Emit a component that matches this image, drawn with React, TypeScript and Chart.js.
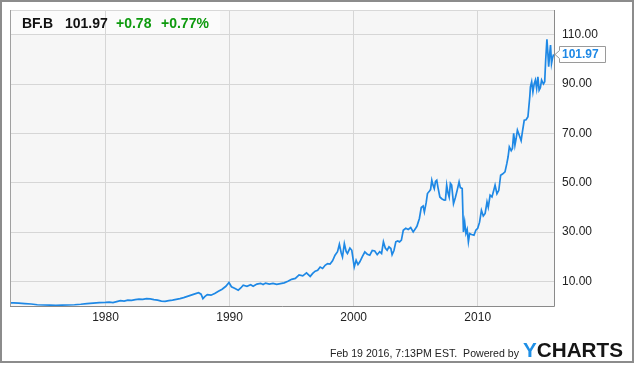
import React, { useEffect, useRef } from "react";
import { Chart, registerables } from "chart.js";

Chart.register(...registerables);

const years: number[] = [
  1972.3, 1972.6, 1973.0, 1973.5, 1974.0, 1974.5, 1975.0, 1975.5, 1976.0, 1976.5,
  1977.0, 1977.5, 1978.0, 1978.5, 1979.0, 1979.5, 1980.0, 1980.3, 1980.6, 1980.9,
  1981.2, 1981.5, 1981.8, 1982.1, 1982.4, 1982.7, 1983.0, 1983.3, 1983.6, 1983.9,
  1984.2, 1984.5, 1984.8, 1985.1, 1985.4, 1985.7, 1986.0, 1986.3, 1986.6, 1986.9,
  1987.2, 1987.5, 1987.7, 1987.85, 1988.0, 1988.2, 1988.5, 1988.8, 1989.1, 1989.4,
  1989.7, 1989.95, 1990.15, 1990.4, 1990.7, 1990.9, 1991.1, 1991.4, 1991.7, 1991.9,
  1992.2, 1992.5, 1992.7, 1992.9, 1993.2, 1993.5, 1993.8, 1994.1, 1994.4, 1994.7,
  1995.0, 1995.3, 1995.6, 1995.9, 1996.2, 1996.5, 1996.7, 1996.9, 1997.1, 1997.3,
  1997.5, 1997.7, 1997.9, 1998.1, 1998.3, 1998.5, 1998.7, 1998.85, 1999.0, 1999.1,
  1999.25, 1999.4, 1999.5, 1999.7, 1999.85, 2000.05, 2000.2, 2000.35, 2000.5, 2000.7,
  2000.9, 2001.1, 2001.3, 2001.5, 2001.7, 2001.9, 2002.1, 2002.25, 2002.4, 2002.55,
  2002.7, 2002.85, 2003.0, 2003.1, 2003.25, 2003.4, 2003.55, 2003.7, 2003.85, 2004.0,
  2004.2, 2004.4, 2004.6, 2004.8, 2005.0, 2005.1, 2005.3, 2005.45, 2005.6, 2005.7,
  2005.85, 2005.95, 2006.1, 2006.2, 2006.3, 2006.4, 2006.5, 2006.6, 2006.7, 2006.8,
  2006.95, 2007.1, 2007.3, 2007.4, 2007.5, 2007.6, 2007.7, 2007.8, 2007.9, 2008.05,
  2008.2, 2008.35, 2008.5, 2008.6, 2008.75, 2008.85, 2008.95, 2009.05, 2009.15, 2009.25,
  2009.35, 2009.5, 2009.7, 2009.85, 2010.0, 2010.15, 2010.3, 2010.45, 2010.6, 2010.75,
  2010.85, 2011.0, 2011.15, 2011.3, 2011.4, 2011.55, 2011.7, 2011.85, 2012.0, 2012.2,
  2012.35, 2012.45, 2012.55, 2012.7, 2012.8, 2012.9, 2013.0, 2013.1, 2013.2, 2013.35,
  2013.5, 2013.6, 2013.75, 2013.9, 2014.05, 2014.2, 2014.25, 2014.35, 2014.45, 2014.55,
  2014.65, 2014.75, 2014.85, 2014.95, 2015.05, 2015.15, 2015.3, 2015.4, 2015.48, 2015.58,
  2015.65, 2015.72, 2015.8, 2015.87, 2015.95, 2016.03, 2016.1, 2016.13,
];

const prices: number[] = [
  1.3, 1.25, 1.2, 1.0, 0.8, 0.5, 0.4, 0.35, 0.3, 0.35,
  0.4, 0.5, 0.7, 1.0, 1.2, 1.4, 1.5, 1.6, 1.4, 1.8,
  2.2, 2.0, 2.4, 2.3, 2.6, 2.8, 2.7, 3.0, 2.9, 2.6,
  2.4, 2.0, 1.9, 2.2, 2.4, 2.7, 3.0, 3.4, 3.9, 4.4,
  4.9, 5.4, 4.8, 3.0, 3.8, 4.6, 4.4, 5.1, 6.0, 6.8,
  8.0, 9.5, 7.8, 7.2, 6.4, 7.3, 8.4, 8.0, 8.6, 8.0,
  8.9, 9.2, 8.7, 9.3, 8.9, 9.2, 8.8, 9.1, 9.4, 10.0,
  10.8, 11.2, 12.6, 12.2, 13.4, 12.0, 13.2, 14.1, 14.5, 15.8,
  15.2, 16.5, 17.2, 17.0, 18.3, 20.6, 22.0, 25.0, 21.5, 19.9,
  25.3, 22.0, 21.3, 23.5, 22.6, 15.8, 18.5, 16.8, 17.9, 20.0,
  21.9, 21.0, 20.6, 22.5, 22.3, 20.8, 22.0, 21.3, 26.0, 23.5,
  22.6, 24.0, 23.3, 20.8, 22.5, 26.0, 26.4, 26.0, 26.7, 30.7,
  31.5, 31.0, 31.8, 30.0, 31.5, 32.3, 35.5, 39.9, 40.5, 38.1,
  42.0, 45.6, 46.5, 47.2, 51.0, 49.0, 47.6, 50.5, 51.0, 48.0,
  44.2, 43.5, 42.9, 43.0, 49.0, 46.0, 44.2, 49.7, 49.0, 41.5,
  44.0, 47.0, 50.3, 48.0, 47.6, 30.0, 34.0, 29.4, 31.0, 26.0,
  29.4, 29.0, 28.7, 30.7, 31.5, 34.0, 38.8, 36.5, 37.5, 42.2,
  40.0, 44.9, 44.2, 47.0, 49.0, 45.5, 46.9, 53.0, 53.5, 54.4,
  57.8, 60.5, 64.5, 63.0, 63.9, 70.0, 65.2, 68.0, 71.3, 69.2,
  67.0, 70.5, 75.3, 75.5, 76.7, 85.0, 88.8, 90.9, 86.8, 90.0,
  91.6, 88.2, 92.9, 87.5, 88.5, 91.6, 90.0, 90.9, 99.7, 108.1,
  103.0, 97.0, 102.0, 105.8, 98.3, 100.5, 101.7, 101.97,
];

const xTicks: number[] = [1980, 1990, 2000, 2010];
const yTicks: number[] = [10, 30, 50, 70, 90, 110];

const ticker = "BF.B";
const lastPrice = "101.97";
const change = "+0.78";
const changePct = "+0.77%";
const footerText = "Feb 19 2016, 7:13PM EST.  Powered by";
const brandY = "Y";
const brandRest = "CHARTS";

const LINE_BLUE = "#1e88e5";
const FONT = "Arial, 'Liberation Sans', sans-serif";

export default function App() {
  const ref = useRef<HTMLCanvasElement | null>(null);

  useEffect(() => {
    document.body.style.margin = "0";
    const canvas = ref.current;
    if (!canvas) return;

    const decor = {
      id: "decor",
      beforeDraw(chart: any) {
        const ctx = chart.ctx;
        const a = chart.chartArea;
        ctx.save();
        ctx.fillStyle = "#ffffff";
        ctx.fillRect(0, 0, chart.width, chart.height);
        ctx.fillStyle = "#f6f6f6";
        ctx.fillRect(a.left, a.top, a.right - a.left, a.bottom - a.top);
        const yTop = chart.scales.y.getPixelForValue(110);
        ctx.fillStyle = "#fbfbfb";
        ctx.fillRect(a.left, a.top, 210, yTop - a.top);
        ctx.restore();
      },
      afterDraw(chart: any) {
        const ctx = chart.ctx;
        const a = chart.chartArea;
        ctx.save();
        ctx.lineWidth = 1;
        ctx.strokeStyle = "#d8d8d8";
        ctx.beginPath();
        ctx.moveTo(a.left, a.top + 0.5);
        ctx.lineTo(a.right, a.top + 0.5);
        ctx.stroke();
        ctx.strokeStyle = "#a0a0a0";
        ctx.beginPath();
        ctx.moveTo(a.left + 0.5, a.top);
        ctx.lineTo(a.left + 0.5, a.bottom);
        ctx.stroke();
        ctx.strokeStyle = "#8a8a8a";
        ctx.beginPath();
        ctx.moveTo(a.right + 0.5, a.top);
        ctx.lineTo(a.right + 0.5, a.bottom + 0.5);
        ctx.lineTo(a.left, a.bottom + 0.5);
        ctx.stroke();

        ctx.lineWidth = 2;
        ctx.strokeStyle = "#8c8c8c";
        ctx.strokeRect(1, 1, 632, 361);

        ctx.font = "bold 14px " + FONT;
        ctx.textBaseline = "alphabetic";
        ctx.textAlign = "left";
        ctx.fillStyle = "#111111";
        ctx.fillText(ticker, 22, 28);
        ctx.fillText(lastPrice, 65, 28);
        ctx.fillStyle = "#0e9a0e";
        ctx.fillText(change, 116, 28);
        ctx.fillText(changePct, 161, 28);

        const yl = chart.scales.y.getPixelForValue(prices[prices.length - 1]);
        const bx = 559, bw = 46, bh = 16;
        const by = Math.round(yl - bh / 2) + 0.5;
        ctx.lineWidth = 1;
        ctx.strokeStyle = "#9a9a9a";
        ctx.fillStyle = "#ffffff";
        ctx.beginPath();
        ctx.moveTo(bx + 0.5, by);
        ctx.lineTo(bx + bw + 0.5, by);
        ctx.lineTo(bx + bw + 0.5, by + bh);
        ctx.lineTo(bx + 0.5, by + bh);
        ctx.lineTo(bx + 0.5, by + bh / 2 + 4);
        ctx.lineTo(bx - 4, by + bh / 2);
        ctx.lineTo(bx + 0.5, by + bh / 2 - 4);
        ctx.closePath();
        ctx.fill();
        ctx.stroke();
        ctx.font = "bold 12px " + FONT;
        ctx.fillStyle = LINE_BLUE;
        ctx.textBaseline = "middle";
        ctx.fillText(lastPrice, bx + 3, by + bh / 2 + 0.5);

        ctx.textBaseline = "alphabetic";
        ctx.font = "bold 20px " + FONT;
        const fullW = ctx.measureText(brandY + brandRest).width;
        const sx = 100 / fullW;
        const yW = ctx.measureText(brandY).width;
        ctx.save();
        ctx.translate(523, 357);
        ctx.scale(sx, 1);
        ctx.fillStyle = "#1e8fe6";
        ctx.fillText(brandY, 0, 0);
        ctx.fillStyle = "#151515";
        ctx.fillText(brandRest, yW, 0);
        ctx.restore();

        ctx.font = "11px " + FONT;
        ctx.fillStyle = "#222222";
        const fw = ctx.measureText(footerText).width;
        ctx.save();
        ctx.translate(330, 357);
        ctx.scale(189 / fw, 1);
        ctx.textAlign = "left";
        ctx.fillText(footerText, 0, 0);
        ctx.restore();
        ctx.restore();
      },
    };

    const chart = new Chart(canvas, {
      type: "line",
      data: {
        datasets: [
          {
            data: years.map((x, i) => ({ x, y: prices[i] })),
            borderColor: LINE_BLUE,
            borderWidth: 1.7,
            pointRadius: 0,
            tension: 0,
            fill: false,
          },
        ],
      },
      options: {
        responsive: false,
        animation: false,
        devicePixelRatio: 1,
        layout: { padding: { left: 10, top: 10, right: 0, bottom: 0 } },
        plugins: { legend: { display: false }, tooltip: { enabled: false } },
        scales: {
          x: {
            type: "linear",
            min: 1972.3,
            max: 2016.15,
            afterBuildTicks: (s: any) => {
              s.ticks = xTicks.map((v) => ({ value: v }));
            },
            afterFit: (s: any) => {
              s.height = 60;
              s.paddingLeft = 0;
              s.paddingRight = 0;
            },
            grid: { color: "#d6d6d6", drawTicks: false, lineWidth: 1 },
            border: { display: false },
            ticks: {
              padding: 4,
              color: "#222222",
              font: { family: FONT, size: 12 },
              maxRotation: 0,
              callback: (v: any) => String(v),
            },
          },
          y: {
            type: "linear",
            position: "right",
            min: 0,
            max: 120,
            afterBuildTicks: (s: any) => {
              s.ticks = yTicks.map((v) => ({ value: v }));
            },
            afterFit: (s: any) => {
              s.width = 81;
              s.paddingTop = 0;
              s.paddingBottom = 0;
            },
            grid: { color: "#d6d6d6", drawTicks: false, lineWidth: 1 },
            border: { display: false },
            ticks: {
              padding: 8,
              color: "#222222",
              font: { family: FONT, size: 12 },
              callback: (v: any) => Number(v).toFixed(2),
            },
          },
        },
      },
      plugins: [decor],
    } as any);

    return () => chart.destroy();
  }, []);

  return (
    <div style={{ width: 635, height: 366 }}>
      <canvas ref={ref} width={635} height={366} style={{ display: "block" }} />
    </div>
  );
}
